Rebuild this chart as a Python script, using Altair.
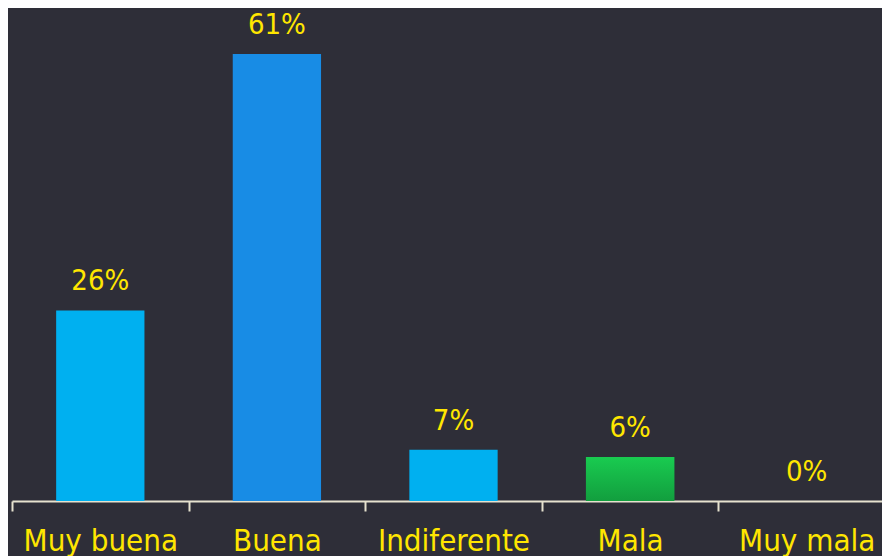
import altair as alt
import pandas as pd

categories = ["Muy buena", "Buena", "Indiferente", "Mala", "Muy mala"]
values = [26, 61, 7, 6, 0]
labels = ["26%", "61%", "7%", "6%", "0%"]
bar_colors = ["#00b0f0", "#188ce5", "#00b0f0", "#15b347", "#00b0f0"]

df = pd.DataFrame({"cat": categories, "value": values, "label": labels})

FONT = "DejaVu Sans Condensed"
YELLOW = "#ffe600"
BG = "#2e2e38"
AXIS = "#e6e2cf"

x = alt.X(
    "cat:N",
    sort=categories,
    title=None,
    scale=alt.Scale(range=[0, 883], paddingInner=0, paddingOuter=0),
    axis=alt.Axis(
        labelAngle=0,
        labelFont=FONT,
        labelFontSize=31,
        labelColor=YELLOW,
        labelPadding=15,
        labelLimit=400,
        labelOverlap=False,
        domainColor=AXIS,
        domainWidth=2,
        tickColor=AXIS,
        tickWidth=2,
        tickSize=10,
        tickBand="extent",
    ),
)
y = alt.Y("value:Q", scale=alt.Scale(domain=[0, 67.28], nice=False), axis=None)

bars = alt.Chart(df).mark_bar(width=alt.RelativeBandSize(0.5)).encode(
    x=x,
    y=y,
    color=alt.Color("cat:N", scale=alt.Scale(domain=categories, range=bar_colors), legend=None),
)

mala = (
    alt.Chart(df)
    .transform_filter(alt.datum.cat == "Mala")
    .mark_bar(
        width=alt.RelativeBandSize(0.5),
        color=alt.Gradient(
            gradient="linear",
            x1=0, y1=0, x2=0, y2=1,
            stops=[
                alt.GradientStop(color="#19cb50", offset=0),
                alt.GradientStop(color="#129e3e", offset=1),
            ],
        ),
    )
    .encode(x=x, y=y)
)

text = alt.Chart(df).mark_text(
    dy=-20, baseline="alphabetic", font=FONT, fontSize=29, color=YELLOW
).encode(x=x, y=y, text="label:N")

chart = (
    alt.layer(bars, mala, text)
    .properties(
        width=870,
        height=493,
        background=BG,
        padding={"left": 4, "top": 0, "right": 0, "bottom": 55},
        autosize=alt.AutoSizeParams(type="none"),
    )
    .configure_view(stroke=None)
)

chart.save("out.html", embed_options={"renderer": "svg", "actions": False})
